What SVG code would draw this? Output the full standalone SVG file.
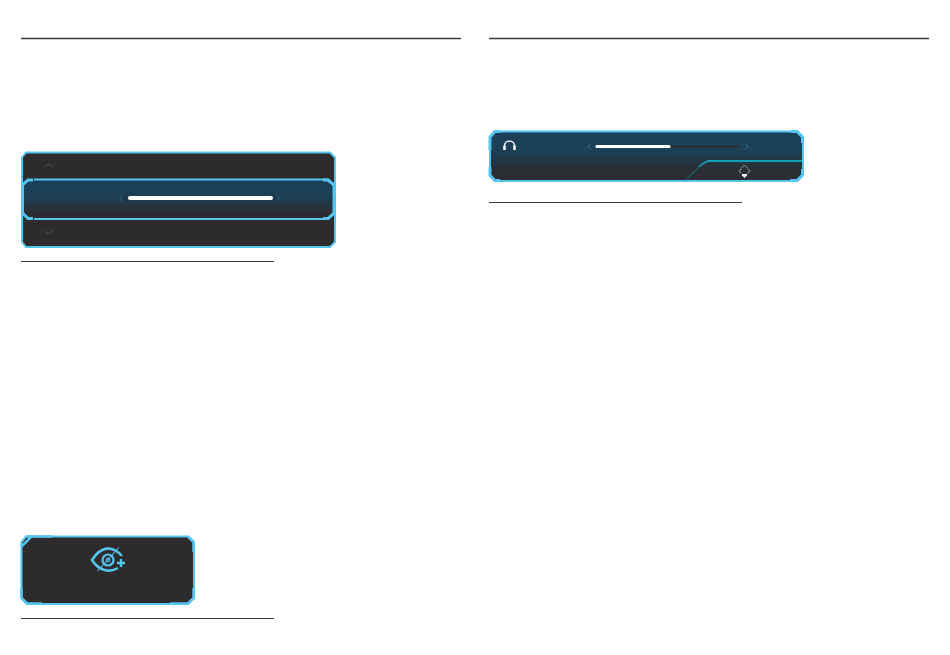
<svg xmlns="http://www.w3.org/2000/svg" width="950" height="655" viewBox="0 0 950 655">
<style>
.rule{stroke:#3a3a40;fill:none}
.edge{stroke:#55c4ee;stroke-width:2;fill:none}
.thick{stroke:#55c4ee;stroke-width:3;fill:none}
.dark{fill:#2e2b2d}
.chev{stroke:#25607c;stroke-width:1.200;fill:none}
.bar{stroke:#fff;stroke-linecap:round;fill:none}
</style>
<defs>
<linearGradient id="g1" x1="0" y1="0" x2="0" y2="1"><stop offset="0" stop-color="#1b4057"/><stop offset="0.4" stop-color="#1c3f55"/><stop offset="0.85" stop-color="#2b2d33"/><stop offset="1" stop-color="#2c2c31"/></linearGradient>
<linearGradient id="g2" x1="0" y1="0" x2="0" y2="1"><stop offset="0" stop-color="#1b4057"/><stop offset="0.38" stop-color="#1b4057"/><stop offset="0.75" stop-color="#2a2e35"/><stop offset="1" stop-color="#2c2c31"/></linearGradient>
</defs>
<g id="rules">
<path class="rule" stroke-width="1.300" d="M21 38.500H461M489 38.500H929"/>
<path class="rule" d="M21 261.500H274M489 202.500H742M21 618.500H274"/>
</g>
<g id="panel-menu">
<path class="dark" d="M26 152.500H330L335 157.500V242L330 247H26L22 242V157.500Z"/>
<path class="edge" d="M26 152.500H330L335 157.500V242L330 247H26L22 242V157.500Z"/>
<path fill="none" stroke="#46606c" stroke-width="1" d="M44.500 167L48.500 164L52.500 167M44.500 231L48.500 234L52.500 231"/>
<path d="M28 179.500H328L334 185V214L328 219H28L22.500 214V185Z" fill="url(#g1)"/>
<path class="edge" d="M34 179.500H328L334 185V214L328 219H34"/>
<path class="thick" d="M33 180H28L22.500 185V213L28 218.500H33M323 180H328L334 185V213L328 218.500H323"/>
<path stroke="#1f4054" stroke-width="0.700" fill="none" d="M24 199H118M281 199H333"/>
<path class="chev" d="M123 195.500C120.500 197 120.500 200 123 201.500M277 195.500L279 198.500L277 201.500"/>
<path class="bar" stroke-width="4" d="M130 198H271"/>
</g>
<g id="panel-volume">
<path d="M495 131.500H797L803 137V175L797 181H495L490 175.500V137Z" fill="url(#g2)"/>
<path class="edge" d="M495 131.500H797L803 137V175L797 181H495L490 175.500V137Z"/>
<path class="thick" d="M500 131.500H495L490 137V150M490 167V175.500L495 180.500H500M791 131.500H797L802.500 137V143M802.500 169V175L797 180.500H790"/>
<g fill="none" stroke="#fff"><path stroke-width="1.300" d="M504.500 148V146C504.500 139.500 514.500 139.500 514.500 146V148"/><path stroke-width="2.500" d="M504.500 145.500V150M514.500 145.500V150"/></g>
<path class="chev" d="M591 143.500L588 146.500L591 149.500M745 143.500L748 146.500L745 149.500"/>
<path stroke="#2e2b2d" stroke-width="2" fill="none" d="M670 146.500H739"/>
<path class="bar" stroke-width="3.200" d="M597 146.500H669"/>
<path fill="none" stroke="#14a0b8" stroke-width="1.800" d="M708 161H802"/>
<path fill="none" stroke="#14a0b8" stroke-width="1.500" d="M708 161L703 163.500L699 167"/>
<path fill="none" stroke="#1a5a68" stroke-width="1.200" d="M699 167L686 180"/>
<path fill="none" stroke="#999" stroke-width="1" d="M741.500 168L744.500 165L747.500 168"/>
<path fill="none" stroke="#7a7a7a" stroke-width="1.200" d="M741.500 168.500L739 171L741.500 173.500M747.500 168.500L750 171L747.500 173.500"/>
<path fill="#eee" d="M742 174H747V175.500L744.500 178L742 175.500Z"/>
</g>
<g id="panel-eye">
<path class="dark" d="M26 536.500H188L194 542V598L188 604H27L21.500 598V542Z"/>
<path class="edge" d="M26 536.500H188L194 542V598L188 604H27L21.500 598V542Z"/>
<path stroke="#55c4ee" stroke-width="2.500" fill="none" d="M21 547L31 537M52 536.500H26M188 536.500L193.500 542V552M21.500 588V598L27 603.500H42M193.500 588V598L188 603.500H170"/>
<g fill="none" stroke="#55c4ee">
<path stroke-width="2.600" d="M122 556C112 545 101 546 92 560C99 571 110 573 118 568"/>
<circle cx="108" cy="560" r="5.500" stroke-width="2.200"/>
<circle cx="108" cy="560" r="2" stroke-width="1" fill="#55c4ee" fill-opacity="0.4"/>
<path stroke-width="1.100" d="M97.500 571L119 547.500"/>
<path stroke-width="2.400" d="M117 563H125M121 559V567"/>
</g>
</g>
</svg>
